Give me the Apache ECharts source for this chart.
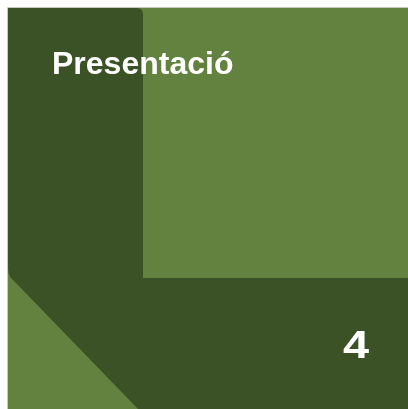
<!DOCTYPE html>
<html><head><meta charset="utf-8">
<script src="https://cdn.jsdelivr.net/npm/echarts@6/dist/echarts.min.js"></script>
<style>html,body{margin:0;padding:0;background:#fff}#c{width:408px;height:409px}</style>
</head><body><div id="c"></div>
<script>
const titleText = ['Presentació'];
const pageNumber = ['4'];
const colors = ['#64823f', '#3b5227'];

const chart = echarts.init(document.getElementById('c'), null, {renderer: 'canvas'});
chart.setOption({
  backgroundColor: '#ffffff',
  animation: false,
  graphic: [
    {type: 'rect', shape: {x: 8, y: 8, width: 400, height: 401}, style: {fill: colors[0]}},
    {type: 'line', shape: {x1: 7.5, y1: 7.5, x2: 408, y2: 7.5}, style: {stroke: '#c5ccbd', lineWidth: 1}},
    {type: 'line', shape: {x1: 7.5, y1: 7.5, x2: 7.5, y2: 409}, style: {stroke: '#c5ccbd', lineWidth: 1}},
    {type: 'polygon', shape: {points: [[8,8],[137,8],[140,8.8],[142.2,10.8],[143,14],[143,278],[408,278],[408,409],[138,409],[14,281],[10.5,277.5],[8.5,273],[8,267]]}, style: {fill: colors[1]}},
    {type: 'text', x: 52, y: 81, style: {text: titleText[0], fill: '#ffffff', font: 'bold 32px "Liberation Sans", Arial, sans-serif', verticalAlign: 'bottom', align: 'left'}},
    {type: 'text', x: 369, y: 367, scaleX: 1.2, style: {text: pageNumber[0], fill: '#ffffff', font: 'bold 39px "Liberation Sans", Arial, sans-serif', verticalAlign: 'bottom', align: 'right'}}
  ]
});
</script></body></html>
